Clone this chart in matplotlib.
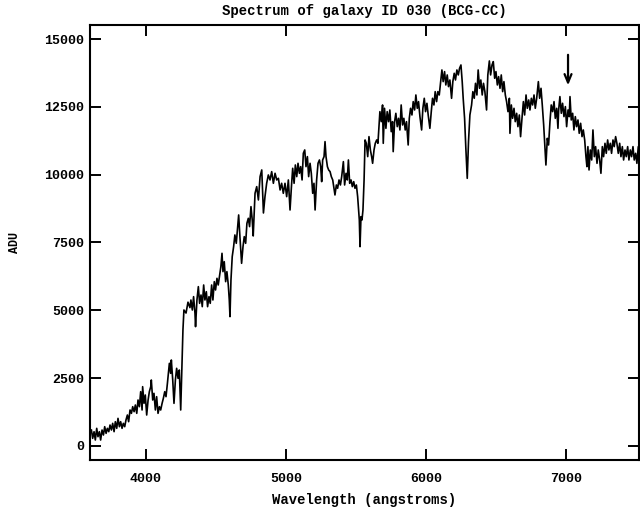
import matplotlib
matplotlib.use('Agg')
import matplotlib.pyplot as plt

# Spectrum (wavelength in angstroms, flux in ADU)
wave = [
    3610, 3619, 3629, 3638, 3648, 3657, 3667, 3676, 3686, 3696, 3705, 3715, 3724, 3734, 3743, 3753,
    3762, 3772, 3781, 3791, 3800, 3810, 3819, 3829, 3838, 3848, 3857, 3867, 3876, 3886, 3896, 3905,
    3915, 3924, 3934, 3943, 3953, 3962, 3972, 3976, 3986, 3995, 4005, 4015, 4024, 4034, 4038, 4048,
    4057, 4067, 4076, 4086, 4096, 4105, 4115, 4124, 4134, 4143, 4153, 4162, 4167, 4176, 4181, 4191,
    4200, 4210, 4219, 4229, 4238, 4248, 4264, 4271, 4286, 4300, 4314,
    4321, 4331, 4340, 4350, 4354, 4364, 4374, 4383, 4393, 4402, 4412, 4421, 4431, 4440, 4450, 4459,
    4469, 4478, 4488, 4497, 4507, 4516, 4526, 4535, 4543, 4550, 4559, 4569, 4578, 4588, 4595, 4600,
    4607, 4616, 4626, 4635, 4645, 4654, 4662, 4671, 4683, 4693, 4702, 4712, 4721, 4731, 4740, 4750,
    4759, 4766,
    4779, 4791, 4803, 4815, 4827, 4839, 4850, 4862, 4874, 4886, 4898, 4910, 4922, 4934, 4946, 4958,
    4969, 4981, 4993, 5005, 5017, 5029,
    5039, 5048, 5058, 5067, 5077, 5086, 5096, 5105, 5115, 5124, 5134, 5143, 5153, 5162, 5172, 5181,
    5191, 5200, 5208, 5219, 5229, 5239, 5248, 5255, 5262, 5272, 5279, 5286, 5296, 5305, 5315, 5324,
    5334, 5343, 5350, 5360, 5369, 5379, 5389, 5398, 5410, 5419, 5429, 5438, 5446, 5455, 5465, 5474,
    5484, 5493, 5503, 5512, 5519, 5524, 5529, 5536, 5543, 5550, 5558, 5565, 5574, 5584, 5593, 5603,
    5612, 5619, 5629, 5638, 5648, 5657,
    5671, 5681, 5690, 5695, 5704, 5714, 5723, 5733, 5742, 5752, 5761, 5766, 5776, 5785, 5795, 5804,
    5814, 5823, 5833, 5842, 5852, 5861, 5873, 5881, 5890, 5900, 5909, 5919, 5928, 5938, 5947, 5957,
    5969, 5978, 5988, 5997, 6007, 6016, 6028, 6038, 6047, 6057, 6066, 6076, 6085, 6095, 6104, 6114,
    6123, 6133, 6142, 6152, 6161, 6171, 6183, 6192, 6202, 6211, 6221, 6231, 6240, 6250, 6259, 6266,
    6276, 6285, 6295, 6304, 6314, 6326, 6335, 6345, 6354, 6364, 6373, 6383, 6392, 6402, 6411, 6421,
    6433, 6442,
    6453, 6462, 6472, 6481, 6491, 6500, 6510, 6519, 6529, 6538, 6548, 6557, 6567, 6576, 6586, 6596,
    6600, 6610, 6619, 6629, 6638, 6648, 6657, 6667, 6676, 6686, 6696, 6705, 6715, 6724, 6734, 6743,
    6753, 6762, 6772, 6781, 6791, 6803, 6812, 6822, 6831, 6841, 6850, 6857, 6867, 6876, 6886, 6895,
    6905, 6915, 6924, 6934, 6943,
    6948, 6957, 6967, 6976, 6986, 6996, 7005, 7015, 7024, 7029, 7038, 7048, 7057, 7067, 7076, 7086,
    7095, 7105, 7115, 7124, 7134, 7143, 7150, 7157, 7165, 7174, 7184, 7193, 7203, 7212, 7222, 7231,
    7241, 7250, 7260, 7269, 7279, 7288, 7298, 7307, 7317, 7326, 7336, 7345, 7355, 7364, 7374, 7384,
    7393, 7403, 7412, 7422, 7431, 7441, 7450, 7460, 7469, 7479, 7488, 7498, 7507, 7517, 7527,
]
flux = [
    589, 282, 528, 220, 651, 343, 528, 220, 589, 405, 712, 466, 651, 528, 773, 589,
    835, 528, 896, 651, 1019, 712, 896, 651, 835, 712, 958, 1142, 896, 1327, 1204, 1449,
    1265, 1511, 1204, 1695, 1449, 2002, 1327, 2187, 1572, 1880, 1142, 1695, 2002, 2187, 2433, 1695,
    1941, 1327, 1818, 1204, 1449, 1327, 1572, 1757, 2002, 1818, 2310, 2801, 3047, 2678, 3170, 2433,
    1572, 2433, 2863, 2494, 2801, 1327, 4280, 5013, 4900, 5300, 5100,
    5381, 5012, 5504, 4889, 4398, 5381, 5873, 5258, 5565, 5135, 5934, 5381, 5688, 5135, 5504, 5258,
    5934, 5381, 6057, 5750, 6180, 5934, 6303, 6610, 7102, 6426, 6794, 6057, 6426, 5934, 5381, 4767,
    6118, 6979, 7347, 7778, 7470, 8023, 8515, 7716, 6733, 7347, 7716, 7470, 8208, 8392, 8085, 8822,
    8331, 7741,
    9313, 9559, 9068, 9928, 10174, 8588, 9190, 9682, 9989, 9805, 10112, 9682, 10051, 9805, 9866, 9436,
    9682, 9313, 9682, 9190, 9805, 8698,
    9559, 10235, 9682, 10358, 9928, 10419, 10050, 10296, 9805, 10788, 10911, 10296, 10665, 9928, 10419, 10050,
    9313, 9682, 8698, 9805, 10419, 10542, 10296, 9743, 10542, 10665, 11218, 10665, 10296, 10173, 10112, 9928,
    9805, 9498, 9252, 9620, 9498, 9805, 9620, 9928, 10480, 9620, 10050, 9805, 10542, 9682, 9805, 9559,
    9743, 9498, 9620, 9190, 8698, 8330, 7346, 8453, 8330, 8698, 9805, 11279, 11156, 10665, 11402, 10911,
    10665, 10419, 10911, 11156, 11279, 11156,
    12323, 11954, 12569, 11155, 12446, 11708, 12323, 11954, 12384, 11585, 11954, 10848, 11954, 12261, 11770, 12077,
    11647, 12569, 11831, 12077, 11647, 11954, 11094, 12077, 12446, 12200, 12692, 12384, 12937, 12446, 12692, 12139,
    11647, 12446, 12815, 12323, 12630, 12200, 11708, 12323, 12815, 12569, 13060, 12692, 13060, 12937, 13367, 13859,
    13429, 13798, 13306, 13675, 13245, 13490, 12814, 13429, 13736, 13490, 13859, 13675, 13920, 14043, 13429, 12814,
    12077, 10971, 9865, 11217, 12200, 12569, 13060, 12815, 13367, 12937, 13859, 13183, 13490, 12937, 13367, 13060,
    12384, 13675,
    14191, 13675, 14043, 14166, 13552, 13798, 13306, 13613, 13183, 13675, 13060, 13429, 12937, 12692, 12323, 12815,
    11524, 12569, 12077, 12446, 11954, 12261, 11770, 12200, 11401, 12077, 12692, 12200, 12937, 12446, 12753, 12384,
    12815, 12569, 12937, 12446, 12815, 13429, 12815, 13183, 12569, 11831, 10971, 10356, 11340, 11094, 11954, 12569,
    12323, 12692, 12077, 12446, 11708,
    12385, 12877, 12262, 12631, 12139, 12508, 11770, 12385, 12139, 12877, 12016, 12262, 11648, 12139, 11770, 12016,
    11525, 11893, 11402, 11648, 11279, 10664, 10295, 11033, 10173, 10910, 10541, 11648, 10664, 11033, 10418, 10910,
    10541, 10050, 11033, 10664, 11156, 10787, 11279, 10910, 11156, 10787, 11279, 11033, 11402, 11156, 10787, 11156,
    10664, 11033, 10541, 10910, 10664, 11033, 10541, 10910, 10664, 11033, 10541, 10787, 10418, 11033, 10664,
]

x_ticks = [4000, 5000, 6000, 7000]
y_ticks = [0, 2500, 5000, 7500, 10000, 12500, 15000]
marker_wave = 7015
marker_top, marker_tip = 14520, 13190

font = ['Liberation Mono', 'DejaVu Sans Mono']
plt.rcParams['font.family'] = font
plt.rcParams['font.weight'] = 'bold'

fig = plt.figure(figsize=(6.4, 5.13), dpi=100)
ax = fig.add_axes([90 / 640, 53 / 513, 549 / 640, 435 / 513])

ax.plot(wave, flux, color='black', lw=1.2)

ax.annotate('', xy=(marker_wave, marker_tip), xytext=(marker_wave, marker_top),
            arrowprops=dict(arrowstyle='->,head_length=0.6,head_width=0.25',
                            color='black', lw=1.6))

ax.set_xlim(3600, 7522)
ax.set_ylim(-516, 15516)
ax.set_xticks(x_ticks)
ax.set_yticks(y_ticks)
ax.set_xticklabels([str(t) for t in x_ticks], fontsize=9.5, fontweight='bold')
ax.set_yticklabels([str(t) for t in y_ticks], fontsize=9.5, fontweight='bold')
ax.tick_params(axis='both', which='major', direction='in', length=8, width=1.4,
               top=True, right=True)
ax.tick_params(axis='x', pad=9)
ax.tick_params(axis='y', pad=4)
for s in ax.spines.values():
    s.set_linewidth(1.5)

ax.set_xlabel('Wavelength (angstroms)', fontsize=10, fontweight='bold', labelpad=6)
ax.set_ylabel('ADU', fontsize=8.5, fontweight='bold', labelpad=17)
ax.set_title('Spectrum of galaxy ID 030 (BCG-CC)', fontsize=10, fontweight='bold', pad=7)

fig.savefig('out.png', dpi=100)
